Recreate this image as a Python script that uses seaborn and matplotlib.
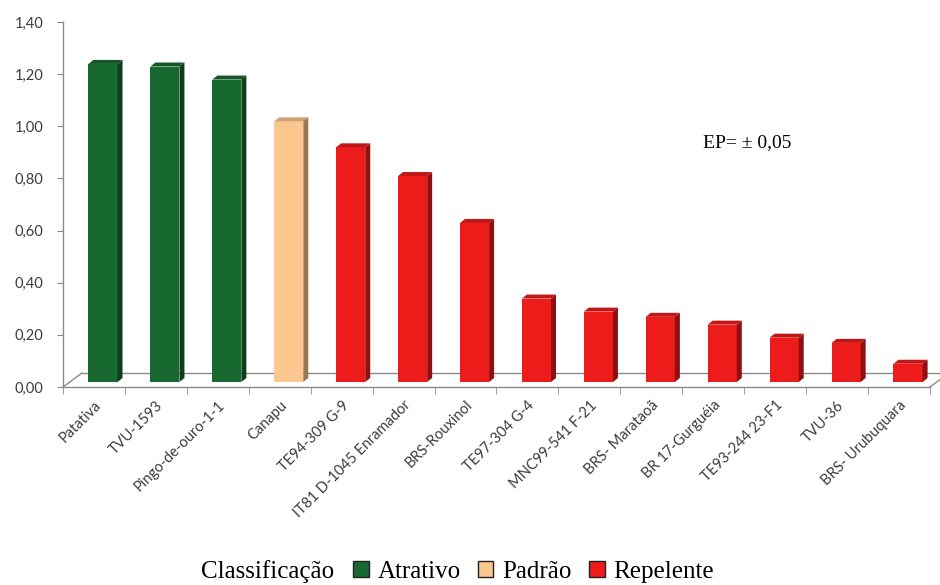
import matplotlib
matplotlib.use("Agg")
import matplotlib.pyplot as plt
import matplotlib.colors as mcolors
from matplotlib.patches import Polygon, Patch
from matplotlib.lines import Line2D
from matplotlib.ticker import FixedLocator, FuncFormatter
import pandas as pd
import seaborn as sns

# Cultivares avaliadas e índice de preferência
cultivares = [
    "Patativa", "TVU-1593", "Pingo-de-ouro-1-1", "Canapu", "TE94-309 G-9",
    "IT81 D-1045 Enramador", "BRS-Rouxinol", "TE97-304 G-4", "MNC99-541 F-21",
    "BRS- Marataoã", "BR 17-Gurguéia", "TE93-244 23-F1", "TVU-36", "BRS- Urubuquara",
]
indice = [1.22, 1.21, 1.16, 1.00, 0.90, 0.79, 0.61, 0.32, 0.27, 0.25, 0.22, 0.17, 0.15, 0.07]
classe = [
    "Atrativo", "Atrativo", "Atrativo", "Padrão", "Repelente", "Repelente", "Repelente",
    "Repelente", "Repelente", "Repelente", "Repelente", "Repelente", "Repelente", "Repelente",
]
classes = ["Atrativo", "Padrão", "Repelente"]
y_ticks = [0.0, 0.2, 0.4, 0.6, 0.8, 1.0, 1.2, 1.4]

cores = {"Atrativo": "#18692f", "Padrão": "#fbc78e", "Repelente": "#ee1b1b"}

df = pd.DataFrame({"cultivar": cultivares, "indice": indice, "classe": classe})

W, H, DPI = 940, 585, 100
fig = plt.figure(figsize=(W / DPI, H / DPI), dpi=DPI)
fig.patch.set_facecolor("white")

# plano das barras (meia profundidade) e plano frontal dos eixos
ax_w, ax_h = 867, 365
ax = fig.add_axes([72 / W, (H - 382) / H, ax_w / W, ax_h / H])
axf = fig.add_axes([63 / W, (H - 387) / H, ax_w / W, ax_h / H], zorder=-1)

sns.barplot(data=df, x="cultivar", y="indice", hue="classe", palette=cores,
            dodge=False, width=0.47, saturation=1, legend=False, ax=ax,
            order=cultivares, hue_order=classes)

xlim = (-0.5, len(cultivares) - 0.5)
ylim = (0, 1.4)
for a in (ax, axf):
    a.set_xlim(*xlim)
    a.set_ylim(*ylim)
    a.set_facecolor("none")

# faces superior e lateral das barras (efeito 3D)
dx = 5 * (xlim[1] - xlim[0]) / ax_w
dy = 4 * (ylim[1] - ylim[0]) / ax_h
for p in list(ax.patches):
    x0, w, h = p.get_x(), p.get_width(), p.get_height()
    if h == 0 or w == 0:
        continue
    idx = int(round(x0 + w / 2))
    base = mcolors.to_rgb(cores[classe[idx]])
    topo = tuple(c * 0.82 for c in base)
    lado = tuple(c * 0.6 for c in base)
    x1 = x0 + w
    ax.add_patch(Polygon([(x0, h), (x1, h), (x1 + dx, h + dy), (x0 + dx, h + dy)],
                         closed=True, facecolor=topo, edgecolor="none", zorder=3))
    ax.add_patch(Polygon([(x1, 0), (x1 + dx, dy), (x1 + dx, h + dy), (x1, h)],
                         closed=True, facecolor=lado, edgecolor="none", zorder=3))

ax.axis("off")

# eixos frontais
eixo_cor = "#8a8a8a"
for s in ("top", "right"):
    axf.spines[s].set_visible(False)
for s in ("left", "bottom"):
    axf.spines[s].set_color(eixo_cor)
    axf.spines[s].set_linewidth(1.0)

axf.yaxis.set_major_locator(FixedLocator(y_ticks))
axf.yaxis.set_major_formatter(FuncFormatter(lambda v, _: f"{v:.2f}".replace(".", ",")))
axf.tick_params(axis="y", length=4, color=eixo_cor, labelsize=10.5, labelcolor="#3c3c3c", pad=10)

axf.set_xticks(range(len(cultivares)))
axf.set_xticklabels(cultivares, rotation=45, ha="right", rotation_mode="anchor",
                    fontsize=10.5, color="#3c3c3c")
axf.set_xticks([i - 0.5 for i in range(len(cultivares) + 1)], minor=True)
axf.tick_params(axis="x", which="major", length=0, pad=8)
axf.tick_params(axis="x", which="minor", length=5, color=eixo_cor)
axf.set_xlabel("")
axf.set_ylabel("")
for lab in axf.get_xticklabels() + axf.get_yticklabels():
    lab.set_family(["Lato", "DejaVu Sans"])

# piso: linha de fundo e diagonais laterais
fig.canvas.draw()
front_l = axf.transData.transform((xlim[0], 0))
front_r = axf.transData.transform((xlim[1], 0))
back_l = ax.transData.transform((xlim[0], 0)) + (10, 9)
back_r = ax.transData.transform((xlim[1], 0)) + (10, 9)
for pts in ((back_l, back_r), (front_l, back_l), (front_r, back_r)):
    fig.add_artist(Line2D([pts[0][0], pts[1][0]], [pts[0][1], pts[1][1]],
                          transform=None, color=eixo_cor, lw=1.0, zorder=0))

# erro padrão
fig.text(703 / W, 1 - 143 / H, "EP= ± 0,05", va="center", ha="left",
         family=["Liberation Serif", "DejaVu Serif"], fontsize=14)

# legenda
serif = {"family": ["Liberation Serif", "DejaVu Serif"], "size": 18}
fig.text(334 / W, 1 - 572 / H, "Classificação", ha="right", va="center", fontdict=serif)
handles = [Patch(facecolor=cores[c], edgecolor="#222222", linewidth=1.0) for c in classes]
fig.legend(handles, classes, loc="center left", bbox_to_anchor=(353 / W, 1 - 572 / H),
           ncol=3, frameon=False, prop=serif, handlelength=0.62, handleheight=0.62,
           handletextpad=0.35, columnspacing=0.7, borderpad=0, borderaxespad=0)

fig.savefig("out.png", dpi=DPI, facecolor="white")
